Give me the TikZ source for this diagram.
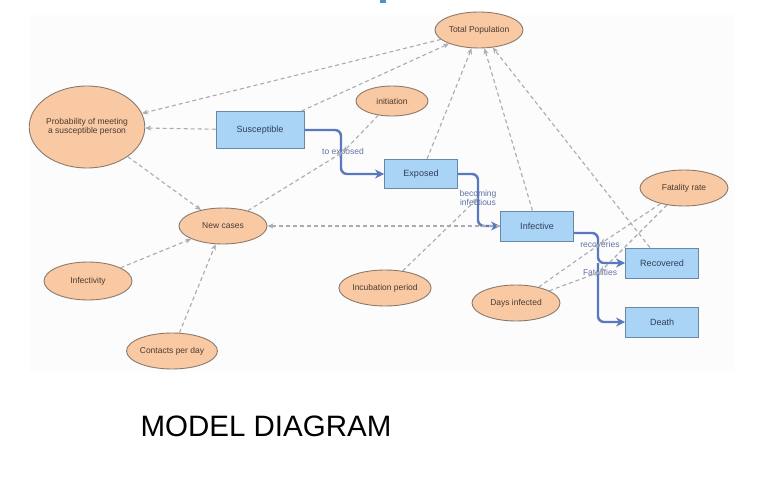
\documentclass[tikz,border=0pt]{standalone}
\usepackage{fontspec}
\setmainfont{Liberation Sans}
\usetikzlibrary{arrows.meta}
\usetikzlibrary{shapes.geometric}

\definecolor{auxfill}{HTML}{F9C9A4}
\definecolor{auxline}{HTML}{8A7A6C}
\definecolor{auxtext}{HTML}{4B3B2E}
\definecolor{stockfill}{HTML}{A9D4F5}
\definecolor{stockline}{HTML}{6A88A6}
\definecolor{stocktext}{HTML}{2F3E5A}
\definecolor{flowblue}{HTML}{5A78BE}
\definecolor{flowtext}{HTML}{6272A4}
\definecolor{linkgray}{HTML}{A9AAB2}

\tikzset{
  aux/.style={ellipse, draw=auxline, fill=auxfill, line width=0.9pt, inner sep=0pt,
    minimum width=88pt, minimum height=36pt, text=auxtext, font=\fontsize{8.5}{9.5}\selectfont, align=center},
  stock/.style={rectangle, draw=stockline, fill=stockfill, line width=0.9pt, inner sep=0pt,
    minimum width=73pt, minimum height=30pt, text=stocktext, font=\fontsize{9}{10}\selectfont},
  flow/.style={draw=flowblue, line width=2.4pt, rounded corners=6pt,
    -{Stealth[length=9pt, width=9pt]}},
  link/.style={draw=linkgray, line width=1.1pt, dash pattern=on 4pt off 3pt,
    -{Stealth[length=6pt, width=5pt]}},
  flowlabel/.style={text=flowtext, font=\fontsize{8.5}{9}\selectfont, align=center, inner sep=0pt}
}

\begin{document}
\begin{tikzpicture}[x=1pt, y=-1pt]
      \useasboundingbox (0,0) rectangle (765,481);
      \fill[gray!2] (30,15) rectangle (735,372);
      \fill[flowblue!80!cyan] (380,0) rectangle (386,3);

      \node[aux, minimum width=110pt, minimum height=82pt] (prob) at (87,127) {Probability of meeting\\a susceptible person};
      \node[aux] (tot) at (479,30) {Total Population};
      \node[aux, minimum width=72pt, minimum height=30pt] (ini) at (392,101) {initiation};
      \node[aux] (new) at (223,226) {New cases};
      \node[aux] (fat) at (684,188) {Fatality rate};
      \node[aux, minimum height=38pt] (infy) at (88,281) {Infectivity};
      \node[aux, minimum width=92pt] (inc) at (385,288) {Incubation period};
      \node[aux] (days) at (516,303) {Days infected};
      \node[aux] (cont) at (172,351) {Contacts per day};

      \node[stock, minimum width=88pt, minimum height=37pt] (sus) at (260,130) {Susceptible};
      \node[stock, minimum height=29pt] (exp) at (421,174) {Exposed};
      \node[stock] (inf) at (537,226) {Infective};
      \node[stock] (rec) at (662,263) {Recovered};
      \node[stock] (dth) at (662,322) {Death};

      \coordinate (toexp) at (343,152);
      \coordinate (becinf) at (478,198);
      \coordinate (recv) at (600,244);
      \coordinate (fatv) at (600,272);
      \coordinate (split) at (598,263);

      % flows
      \draw[flow] (sus.east) -- (341,130) |- (exp.west);
      \draw[flow] (exp.east) -- (478,174) |- (inf.west);
      \draw[flow] ([yshift=-7pt]inf.east) -| (split) -- (rec.west);
      \draw[flow] (split) |- (dth.west);

      \node[flowlabel] (toexplab) at (toexp) {to exposed};
      \node[flowlabel] (becinflab) at (becinf) {becoming\\infectious};
      \node[flowlabel] (recvlab) at (recv) {recoveries};
      \node[flowlabel] (fatvlab) at (fatv) {Fatalities};

      % links
      \draw[link] (tot) -- (prob);
      \draw[link] (sus) -- (prob);
      \draw[link] (sus) -- (tot);
      \draw[link] (prob) -- (new);
      \draw[link] (new) -- (toexp);
      \draw[link] (ini) -- (toexp);
      \draw[link] (exp) -- (tot);
      \draw[link] (inf) -- (tot);
      \draw[link] (rec) -- (tot);
      \draw[link] (inf) -- (new);
      \draw[link] (inc) -- (becinf);
      \draw[link] (fat) -- (recv);
      \draw[link] (fat) -- (fatv);
      \draw[link] (days) -- (recv);
      \draw[link] (days) -- (fatv);
      \draw[link] (infy) -- (new);
      \draw[link] (cont) -- (new);

      \node[font=\fontsize{29.5}{35}\selectfont] (title) at (266,426) {MODEL DIAGRAM};
    \end{tikzpicture}
\end{document}
